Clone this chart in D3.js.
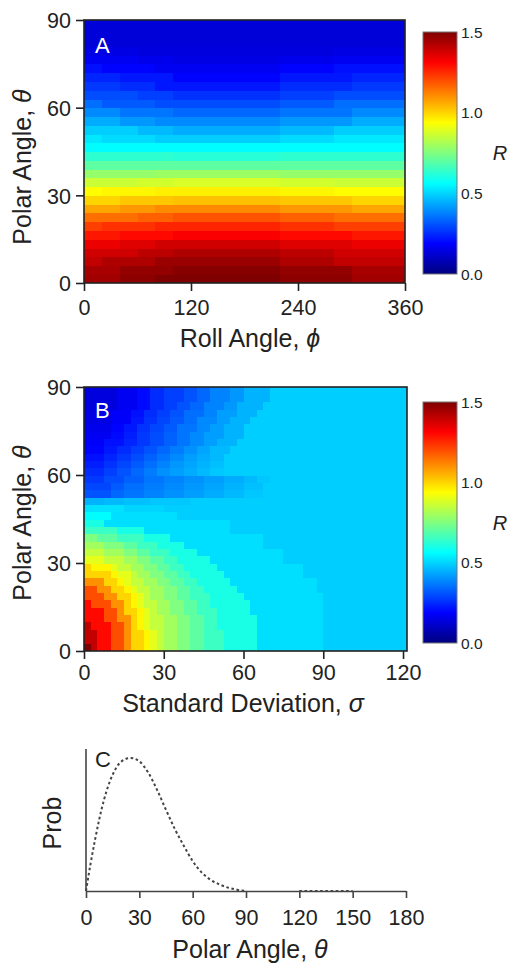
<!DOCTYPE html>
<html>
<head>
<meta charset="utf-8">
<script src="https://cdn.jsdelivr.net/npm/d3@7"></script>
<style>
  body { margin: 0; background: #fff; }
  svg text { font-family: Arial, "Liberation Sans", sans-serif; fill: #222; }
</style>
</head>
<body>
<div id="chart"></div>
<script>
// ---- data ----
// panel A: R over polar angle (rows of 3 deg, bottom first) x roll angle (18 columns of 20 deg)
// each row is run-length coded "value*count"
const rollStepA = 20;
const thetaStepA = 3;
const rowsA = [
  "1.45*2,1.48*2,1.5*7,1.48*4,1.45*3",
  "1.44*2,1.47*3,1.49*6,1.47*4,1.44*3",
  "1.4*1,1.43*3,1.46*7,1.43*3,1.4*4",
  "1.38*3,1.41*2,1.43*6,1.41*3,1.38*4",
  "1.34*2,1.36*2,1.38*7,1.36*4,1.34*3",
  "1.28*2,1.3*3,1.32*6,1.3*4,1.28*3",
  "1.22*1,1.24*3,1.26*7,1.24*3,1.22*4",
  "1.15*3,1.17*2,1.19*6,1.17*3,1.15*4",
  "1.07*2,1.09*2,1.11*7,1.09*4,1.07*3",
  "1.0*2,1.02*3,1.03*6,1.02*4,1.0*3",
  "0.94*1,0.95*3,0.96*7,0.95*3,0.94*4",
  "0.86*3,0.87*2,0.88*6,0.87*3,0.86*4",
  "0.78*4,0.79*7,0.78*7",
  "0.7*18",
  "0.63*5,0.62*6,0.63*7",
  "0.56*18",
  "0.53*1,0.51*3,0.49*7,0.51*3,0.53*4",
  "0.49*3,0.46*2,0.44*6,0.46*3,0.49*4",
  "0.44*2,0.41*2,0.39*7,0.41*4,0.44*3",
  "0.39*2,0.36*3,0.34*6,0.36*4,0.39*3",
  "0.35*1,0.32*3,0.3*7,0.32*3,0.35*4",
  "0.3*3,0.28*2,0.26*6,0.28*3,0.3*4",
  "0.27*2,0.25*2,0.22*7,0.25*4,0.27*3",
  "0.24*2,0.22*3,0.19*6,0.22*4,0.24*3",
  "0.21*1,0.19*3,0.17*7,0.19*3,0.21*4",
  "0.17*3,0.16*2,0.15*6,0.16*3,0.17*4",
  "0.15*3,0.14*11,0.15*4",
  "0.13*18",
  "0.13*18",
  "0.13*18"
];

// panel B: R over polar angle (rows of 2.5 deg, bottom first) x standard deviation (columns of 2.5)
const sigmaStepB = 2.5;
const thetaStepB = 2.5;
const rowsB = [
  "1.5*1,1.4*1,1.3*2,1.2*2,1.1*1,1.0*2,0.95*1,0.9*1,0.85*1,0.8*2,0.75*2,0.7*2,0.65*3,0.6*5,0.515*10,0.49*13",
  "1.4*2,1.3*2,1.2*2,1.1*1,1.0*2,0.95*1,0.9*1,0.85*1,0.8*2,0.75*2,0.7*2,0.65*3,0.6*5,0.515*10,0.49*13",
  "1.4*2,1.3*2,1.2*2,1.1*1,1.0*2,0.95*1,0.9*1,0.85*1,0.8*2,0.75*2,0.7*2,0.65*3,0.6*5,0.515*10,0.49*13",
  "1.4*1,1.3*3,1.2*2,1.1*1,1.0*1,0.95*1,0.9*1,0.85*2,0.8*2,0.75*2,0.7*2,0.65*2,0.6*6,0.515*10,0.49*13",
  "1.3*3,1.2*2,1.1*2,1.0*1,0.95*1,0.9*1,0.85*2,0.8*2,0.75*2,0.7*2,0.65*2,0.6*6,0.515*10,0.49*13",
  "1.3*3,1.2*2,1.1*1,1.0*2,0.95*1,0.9*1,0.85*1,0.8*2,0.75*2,0.7*2,0.65*3,0.6*5,0.515*11,0.49*13",
  "1.3*1,1.2*3,1.1*2,1.0*1,0.95*1,0.9*1,0.85*2,0.8*2,0.75*2,0.7*2,0.65*2,0.6*6,0.515*11,0.49*13",
  "1.2*3,1.1*2,1.0*2,0.95*1,0.9*1,0.85*1,0.8*2,0.75*2,0.7*2,0.65*3,0.6*5,0.515*12,0.49*13",
  "1.2*2,1.1*2,1.0*2,0.95*1,0.9*1,0.85*2,0.8*2,0.75*2,0.7*2,0.65*2,0.6*5,0.515*12,0.49*14",
  "1.1*3,1.0*2,0.95*1,0.9*1,0.85*2,0.8*2,0.75*2,0.7*2,0.65*2,0.6*5,0.515*13,0.49*14",
  "1.0*4,0.95*1,0.9*2,0.85*1,0.8*2,0.75*2,0.7*2,0.65*2,0.6*5,0.515*12,0.49*16",
  "1.0*1,0.95*3,0.9*1,0.85*2,0.8*2,0.75*2,0.7*2,0.65*2,0.6*5,0.515*13,0.49*16",
  "0.9*3,0.85*3,0.8*2,0.75*2,0.7*2,0.65*2,0.6*5,0.515*11,0.49*19",
  "0.85*3,0.8*3,0.75*2,0.7*2,0.65*3,0.6*4,0.515*13,0.49*19",
  "0.8*3,0.75*3,0.7*2,0.65*3,0.6*4,0.515*12,0.49*22",
  "0.75*2,0.7*3,0.65*4,0.6*4,0.515*14,0.49*22",
  "0.65*5,0.6*4,0.515*13,0.49*27",
  "0.6*3,0.515*19,0.49*27",
  "0.56*4,0.515*10,0.49*35",
  "0.52*6,0.5*6,0.49*37",
  "0.45*3,0.46*3,0.47*4,0.48*6,0.49*33",
  "0.31*4,0.34*2,0.36*3,0.38*3,0.4*3,0.42*3,0.44*3,0.46*3,0.48*3,0.49*22",
  "0.29*4,0.32*2,0.35*3,0.37*3,0.39*3,0.41*3,0.43*3,0.45*3,0.47*3,0.49*22",
  "0.27*3,0.3*3,0.33*3,0.36*3,0.38*3,0.4*3,0.42*3,0.44*3,0.46*2,0.48*2,0.49*21",
  "0.25*3,0.28*2,0.31*2,0.34*2,0.37*2,0.4*2,0.42*2,0.44*2,0.46*2,0.48*2,0.49*28",
  "0.23*3,0.26*2,0.29*2,0.32*2,0.35*2,0.38*2,0.41*2,0.43*2,0.45*2,0.47*2,0.49*28",
  "0.21*3,0.24*2,0.27*2,0.3*2,0.33*2,0.36*2,0.39*2,0.42*2,0.44*2,0.46*2,0.49*28",
  "0.19*3,0.22*2,0.25*2,0.28*2,0.31*2,0.34*2,0.37*2,0.4*2,0.43*2,0.46*3,0.49*27",
  "0.18*3,0.21*3,0.24*2,0.27*2,0.3*2,0.33*2,0.36*2,0.39*2,0.42*2,0.45*3,0.49*26",
  "0.17*4,0.2*2,0.23*2,0.27*2,0.3*2,0.33*2,0.36*2,0.39*2,0.42*3,0.45*3,0.49*25",
  "0.16*4,0.19*2,0.22*2,0.26*2,0.29*2,0.32*2,0.36*3,0.39*2,0.42*2,0.45*3,0.49*25",
  "0.15*4,0.18*3,0.22*2,0.26*2,0.29*2,0.32*2,0.35*2,0.39*3,0.42*2,0.45*3,0.49*24",
  "0.15*4,0.18*3,0.21*2,0.25*2,0.28*2,0.31*2,0.35*3,0.38*2,0.42*3,0.45*3,0.49*23",
  "0.14*5,0.17*3,0.2*2,0.25*2,0.28*2,0.31*2,0.34*2,0.38*3,0.41*2,0.45*4,0.49*22",
  "0.14*5,0.17*3,0.2*2,0.25*2,0.28*3,0.31*2,0.34*2,0.38*3,0.41*2,0.45*4,0.49*21",
  "0.14*5,0.17*3,0.2*2,0.25*2,0.28*3,0.31*2,0.34*2,0.38*3,0.41*2,0.45*4,0.49*21"
];

// panel C: probability vs polar angle (null = not drawn)
const probAngle = [0, 2.5, 5, 10, 15, 20, 25, 30, 35, 40, 45, 50, 55, 60, 65, 70, 75, 80, 85, 90,
  95, 100, 105, 110, 115, 120, 125, 130, 135, 140, 145, 150];
const probValue = [0, 0.2, 0.38, 0.68, 0.875, 0.975, 1.0, 0.975, 0.89, 0.76, 0.61, 0.465, 0.34, 0.225, 0.14, 0.085, 0.05, 0.025, 0.01, 0,
  null, null, null, null, null, 0, 0, 0, 0, 0, 0, 0];

// ticks
const thetaTicks = [0, 30, 60, 90];
const rollTicks = [0, 120, 240, 360];
const sigmaTicks = [0, 30, 60, 90, 120];
const polarTicksC = [0, 30, 60, 90, 120, 150, 180];
const barTicks = [0, 0.5, 1.0, 1.5];

// ---- drawing ----
const W = 512, H = 969;
const svg = d3.select("#chart").append("svg").attr("width", W).attr("height", H);

// jet colormap over R in [0, 1.5]
const jet = d3.scaleLinear()
  .domain([0, 0.125, 0.375, 0.625, 0.875, 1].map(t => t * 1.5))
  .range(["#00007f", "#0000ff", "#00ffff", "#ffff00", "#ff0000", "#7f0000"])
  .clamp(true);

function expand(s) {
  return s.split(",").flatMap(p => {
    const [v, n] = p.split("*");
    return d3.range(+n).map(() => +v);
  });
}

const tickFont = "21.5px", titleFont = "25px";

function heatPanel(opt) {
  const x = d3.scaleLinear().domain(opt.xDomain).range([opt.left, opt.right]);
  const y = d3.scaleLinear().domain([0, 90]).range([opt.bottom, opt.top]);
  const g = svg.append("g");
  const clipId = "clip" + opt.name;
  svg.append("clipPath").attr("id", clipId).append("rect")
    .attr("x", opt.left).attr("y", opt.top)
    .attr("width", opt.right - opt.left).attr("height", opt.bottom - opt.top);

  const cells = [];
  opt.rows.forEach((r, i) => {
    expand(r).forEach((v, j) => cells.push({ i, j, v }));
  });
  g.append("g").attr("clip-path", `url(#${clipId})`)
    .selectAll("rect").data(cells).join("rect")
    .attr("x", d => x(d.j * opt.xStep))
    .attr("y", d => y((d.i + 1) * opt.yStep))
    .attr("width", d => x((d.j + 1) * opt.xStep) - x(d.j * opt.xStep) + 0.6)
    .attr("height", d => y(d.i * opt.yStep) - y((d.i + 1) * opt.yStep) + 0.6)
    .attr("fill", d => jet(d.v))
    .attr("shape-rendering", "crispEdges");

  // frame
  g.append("rect")
    .attr("x", opt.left).attr("y", opt.top)
    .attr("width", opt.right - opt.left).attr("height", opt.bottom - opt.top)
    .attr("fill", "none").attr("stroke", "#222").attr("stroke-width", 1.6);

  // axes
  const ax = g.append("g").attr("transform", `translate(0,${opt.bottom})`)
    .call(d3.axisBottom(x).tickValues(opt.xTicks).tickSize(8).tickPadding(6).tickFormat(d3.format("d")));
  const ay = g.append("g").attr("transform", `translate(${opt.left},0)`)
    .call(d3.axisLeft(y).tickValues(thetaTicks).tickSize(8).tickPadding(5).tickFormat(d3.format("d")));
  [ax, ay].forEach(a => {
    a.select(".domain").remove();
    a.selectAll(".tick line").attr("stroke", "#222").attr("stroke-width", 1.6);
    a.selectAll("text").style("font-size", tickFont).attr("fill", "#222");
  });
  ax.selectAll("text").attr("dy", null).attr("y", opt.xLabelY - opt.bottom);
  ay.selectAll("text").attr("dy", "0.36em");

  // panel letter
  g.append("text").attr("x", opt.left + 11).attr("y", opt.top + opt.letterDy)
    .text(opt.name).attr("fill", "#fff").style("fill", "#fff").style("font-size", "22px");

  // x title
  const xt = g.append("text").attr("x", opt.xTitleX).attr("y", opt.xTitleY)
    .attr("text-anchor", "middle").style("font-size", titleFont);
  xt.append("tspan").text(opt.xTitle);
  xt.append("tspan").text(opt.xSym).style("font-style", "italic");

  // y title
  const yt = g.append("text").attr("transform", `translate(31,${opt.yTitleY}) rotate(-90)`)
    .attr("text-anchor", "middle").style("font-size", titleFont);
  yt.append("tspan").text("Polar Angle, ");
  yt.append("tspan").text("\u03b8").style("font-style", "italic");

  // colorbar
  const cb = opt.bar;
  const cy = d3.scaleLinear().domain([0, 1.5]).range([cb.bottom, cb.top]);
  const gradId = "grad" + opt.name;
  const grad = svg.append("defs").append("linearGradient").attr("id", gradId)
    .attr("x1", 0).attr("y1", 1).attr("x2", 0).attr("y2", 0);
  d3.range(0, 1.5001, 0.0375).forEach(v => {
    grad.append("stop").attr("offset", v / 1.5).attr("stop-color", jet(v));
  });
  g.append("rect").attr("x", 423).attr("y", cb.top).attr("width", 34)
    .attr("height", cb.bottom - cb.top).attr("fill", `url(#${gradId})`)
    .attr("stroke", "#777").attr("stroke-width", 1);
  g.selectAll(".cbl").data(barTicks).join("text")
    .attr("x", 461).attr("y", d => cy(d)).attr("dy", "0.36em")
    .style("font-size", "15.5px").text(d => d.toFixed(1));
  g.append("text").attr("x", 500).attr("y", (cb.top + cb.bottom) / 2).attr("dy", "0.36em")
    .attr("text-anchor", "middle").style("font-size", "20px").style("font-style", "italic").text("R");
}

heatPanel({
  name: "A", rows: rowsA, xDomain: [0, 360], xStep: rollStepA, yStep: thetaStepA,
  left: 84, right: 405, top: 20, bottom: 283, xTicks: rollTicks, xLabelY: 315,
  xTitle: "Roll Angle, ", xSym: "\u03d5", xTitleX: 250, xTitleY: 347, yTitleY: 167,
  letterDy: 33, bar: { top: 32, bottom: 274 }
});

heatPanel({
  name: "B", rows: rowsB, xDomain: [0, 121.5], xStep: sigmaStepB, yStep: thetaStepB,
  left: 84, right: 407, top: 387, bottom: 651, xTicks: sigmaTicks, xLabelY: 680,
  xTitle: "Standard Deviation, ", xSym: "\u03c3", xTitleX: 243, xTitleY: 712, yTitleY: 523,
  letterDy: 31, bar: { top: 402, bottom: 643 }
});

// panel C
const xC = d3.scaleLinear().domain([0, 180]).range([86, 406]);
const yC = d3.scaleLinear().domain([0, 1]).range([891, 758]);
const gC = svg.append("g");

const axC = gC.append("g").attr("transform", "translate(0,891)")
  .call(d3.axisBottom(xC).tickValues(polarTicksC).tickSize(7).tickSizeOuter(0).tickPadding(6));
axC.select(".domain").attr("stroke", "#444").attr("stroke-width", 1.6);
axC.selectAll(".tick line").attr("stroke", "#444").attr("stroke-width", 1.6);
axC.selectAll("text").style("font-size", tickFont).attr("fill", "#222").attr("dy", null).attr("y", 925 - 891);

gC.append("line").attr("x1", xC(0)).attr("x2", xC(0)).attr("y1", 749).attr("y2", 891)
  .attr("stroke", "#444").attr("stroke-width", 1.6);

const probData = probAngle.map((a, i) => ({ a, p: probValue[i] }));
const line = d3.line()
  .defined(d => d.p !== null)
  .x(d => xC(d.a)).y(d => yC(d.p))
  .curve(d3.curveMonotoneX);
gC.append("path").datum(probData).attr("d", line)
  .attr("fill", "none").attr("stroke", "#444").attr("stroke-width", 2)
  .attr("stroke-dasharray", "2.6,2.6");

gC.append("text").attr("x", 95).attr("y", 767).style("font-size", "22px").text("C");
gC.append("text").attr("transform", "translate(61,823) rotate(-90)").attr("text-anchor", "middle")
  .style("font-size", titleFont).text("Prob");
const ctitle = gC.append("text").attr("x", 250).attr("y", 958).attr("text-anchor", "middle").style("font-size", titleFont);
ctitle.append("tspan").text("Polar Angle, ");
ctitle.append("tspan").text("\u03b8").style("font-style", "italic");
</script>
</body>
</html>
